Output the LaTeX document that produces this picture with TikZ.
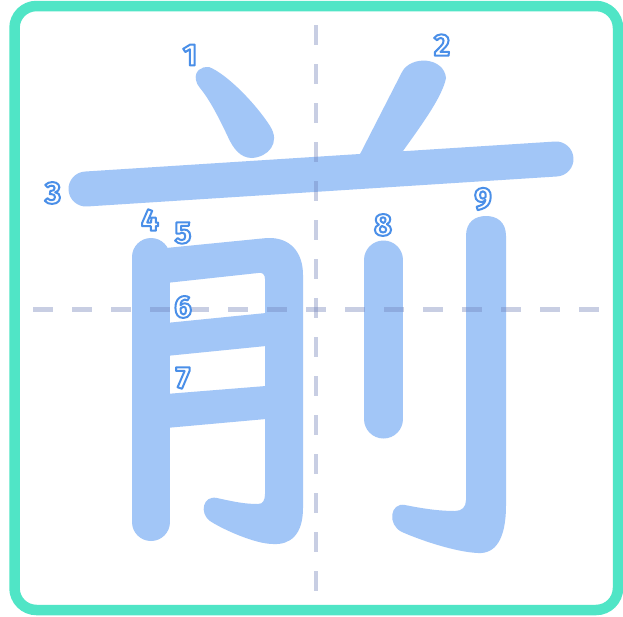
\documentclass[tikz,border=0pt]{standalone}
\usepackage{fontspec}
\setmainfont{Fira Sans}
\definecolor{strokeblue}{HTML}{A2C6F7}
\definecolor{framegreen}{HTML}{50E5C6}
\definecolor{guide}{HTML}{7080B8}
\newcommand{\outl}[1]{\special{pdf:literal direct q 0.29 0.56 0.91 RG 2 w 1 j 2 Tr}#1\special{pdf:literal direct 0 Tr Q}}
\tikzset{
  ink/.style={fill=strokeblue, draw=none},
  inkline/.style={draw=strokeblue, line cap=round},
  guideline/.style={draw=guide, opacity=0.38, line width=4.5pt, dash pattern=on 20pt off 19pt},
  num/.style={text=white, font=\bfseries\fontsize{31}{31}\selectfont, inner sep=0pt},
  frame/.style={draw=framegreen, line width=10.5pt, rounded corners=22pt}
}
\begin{document}
\begin{tikzpicture}[x=1pt,y=-1pt]
\useasboundingbox (0,0) rectangle (623,616);
\fill[white] (0,0) rectangle (623,616);
% stroke 1
\fill[ink] (196,80) .. controls (194,71) and (202,66) .. (209,67) .. controls (227,74) and (256,104) .. (270,126) .. controls (281,143) and (268,157) .. (252,158) .. controls (240,158) and (233,148) .. (228,137) .. controls (220,120) and (210,100) .. (200,88) .. controls (198,85) and (196,83) .. (196,80) -- cycle;
% stroke 2
\fill[ink] (356,162) -- (402,72) .. controls (411,55) and (444,57) .. (446,78) .. controls (442,98) and (420,127) .. (398,158) -- cycle;
% stroke 3
\draw[inkline, line width=35pt] (86,189) -- (556,159);
% stroke 4
\draw[inkline, line width=38pt] (151,257) -- (151,522);
% stroke 5
\fill[ink] (166,248) -- (267,238) .. controls (290,237) and (303,252) .. (303,275) -- (303,508) .. controls (303,535) and (290,545) .. (273,544) .. controls (255,544) and (222,529) .. (210,521) .. controls (199,513) and (203,495) .. (217,498) .. controls (235,502) and (245,504) .. (258,504) .. controls (263,504) and (265,500) .. (265,494) -- (265,279) .. controls (265,274) and (262,272) .. (258,273) -- (166,283) -- cycle;
% stroke 6
\fill[ink] (166,323) -- (266,313) -- (266,346) -- (166,356) -- cycle;
% stroke 7
\fill[ink] (166,394) -- (266,386) -- (266,419) -- (166,428) -- cycle;
% stroke 8
\draw[inkline, line width=39pt] (383.5,260) -- (383.5,419);
% stroke 9
\fill[ink] (466,236) .. controls (466,222) and (475,216) .. (486,216) .. controls (497,216) and (506,222) .. (506,236) -- (506,505) .. controls (506,540) and (495,554) .. (478,553) .. controls (455,552) and (420,540) .. (402,532) .. controls (387,525) and (390,502) .. (405,505) .. controls (425,509) and (440,511) .. (455,511) .. controls (462,511) and (466,507) .. (466,500) -- cycle;
% guides
\coordinate (vt) at (316,25);
\coordinate (vb) at (316,596);
\coordinate (hl) at (33,309.5);
\coordinate (hr) at (616,309.5);
\draw[guideline] (vt) -- (vb);
\draw[guideline] (hl) -- (hr);
% frame
\draw[frame] (14.5,6) rectangle (618,610);
% numbers
\node[num] (n1) at (190,55) {\outl{1}};
\node[num] (n2) at (442,45) {\outl{2}};
\node[num] (n3) at (53,193) {\outl{3}};
\node[num] (n4) at (150,220) {\outl{4}};
\node[num] (n5) at (183,233) {\outl{5}};
\node[num] (n6) at (183,307) {\outl{6}};
\node[num] (n7) at (183,378) {\outl{7}};
\node[num] (n8) at (383,225) {\outl{8}};
\node[num] (n9) at (483,199) {\outl{9}};
\end{tikzpicture}
\end{document}
